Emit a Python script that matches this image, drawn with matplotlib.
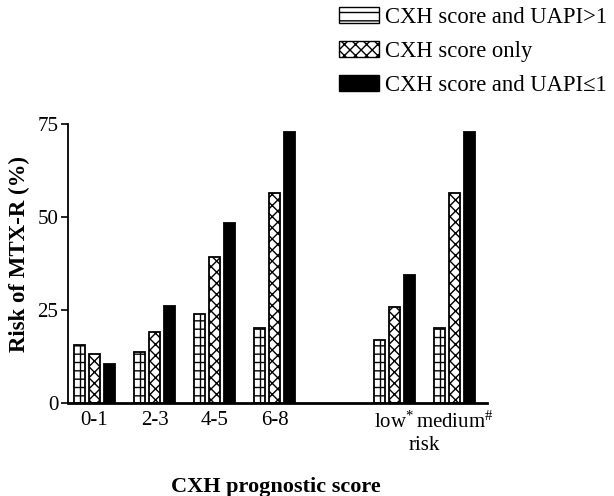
import numpy as np
import matplotlib
matplotlib.use("Agg")
import matplotlib.pyplot as plt
from matplotlib.patches import Patch
from matplotlib.transforms import blended_transform_factory

# --- Data ---
groups = ["0-1", "2-3", "4-5", "6-8", "low$^{*}$", "medium$^{\\#}$"]
group_pos = [0, 1, 2, 3, 5, 6]
uapi_high = [15.6, 13.6, 24.0, 20.2, 17.0, 20.2]
cxh_only = [13.2, 19.0, 39.3, 56.4, 25.9, 56.4]
uapi_low = [10.4, 26.0, 48.5, 72.8, 34.4, 72.8]
labels = ["CXH score and UAPI>1", "CXH score only", "CXH score and UAPI\u22641"]

plt.rcParams["font.family"] = ["Liberation Serif", "DejaVu Serif"]
plt.rcParams["mathtext.fontset"] = "custom"
plt.rcParams["mathtext.rm"] = "Liberation Serif"
plt.rcParams["mathtext.it"] = "Liberation Serif"
plt.rcParams["hatch.linewidth"] = 1.0


def main():
    fig = plt.figure(figsize=(6.14, 4.96), dpi=100)
    ax = fig.add_axes([0.111, 0.1875, 0.682, 0.5625])

    x = np.array(group_pos, dtype=float)
    w = 0.18
    off = 0.25

    ax.bar(x - off, uapi_high, w, color="white", edgecolor="black",
           linewidth=1.3, hatch="--")
    ax.vlines(x - off, 0, uapi_high, color="black", linewidth=1.0)
    ax.bar(x, cxh_only, w, color="white", edgecolor="black",
           linewidth=1.3, hatch="xxx")
    ax.bar(x + off, uapi_low, w, color="black", edgecolor="black",
           linewidth=1.3)

    ax.set_xlim(-0.44, 6.54)
    ax.set_ylim(0, 75)
    ax.set_yticks([0, 25, 50, 75])
    ax.set_xticks(x)
    ax.set_xticklabels(groups)
    ax.tick_params(axis="x", length=0, pad=6, labelsize=15)
    ax.tick_params(axis="y", length=5, width=1.2, pad=2, labelsize=15)

    for s in ["top", "right"]:
        ax.spines[s].set_visible(False)
    ax.spines["bottom"].set_linewidth(2.0)
    ax.spines["left"].set_linewidth(1.3)

    tr = blended_transform_factory(ax.transData, ax.transAxes)
    ax.text(5.5, -0.12, "risk", transform=tr, ha="center", va="top",
            fontsize=15)

    ax.set_xlabel("CXH prognostic score", fontsize=16, fontweight="bold")
    ax.xaxis.set_label_coords(0.495, -0.265)
    ax.set_ylabel("Risk of MTX-R (%)", fontsize=16.5, fontweight="bold")
    ax.yaxis.set_label_coords(-0.09, 0.535)

    handles = [
        Patch(facecolor="white", edgecolor="black", hatch="--"),
        Patch(facecolor="white", edgecolor="black", hatch="xxx"),
        Patch(facecolor="black", edgecolor="black"),
    ]
    fig.legend(handles, labels, loc="upper left", bbox_to_anchor=(0.538, 1.005),
               frameon=False, fontsize=16.3, handlelength=1.75, handleheight=0.7,
               handletextpad=0.25, labelspacing=0.58, borderaxespad=0)

    fig.savefig("out.png", dpi=100)
    plt.close(fig)


if __name__ == "__main__":
    main()
